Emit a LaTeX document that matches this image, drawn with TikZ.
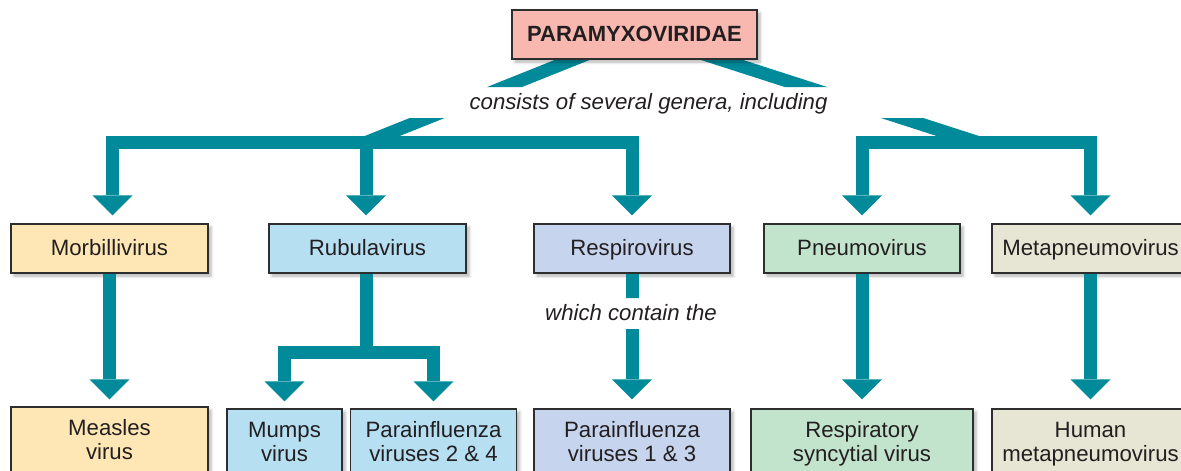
\documentclass[tikz,border=0pt]{standalone}
\usepackage{fontspec}
\setmainfont{Liberation Sans}
\usetikzlibrary{arrows.meta,shadows.blur}
\definecolor{tealc}{HTML}{008A9A}
\definecolor{boxline}{HTML}{2E2E2E}
\definecolor{txt}{HTML}{231F20}
\definecolor{cTop}{HTML}{F8B8B0}
\definecolor{cMor}{HTML}{FFE7B5}
\definecolor{cRub}{HTML}{B6DFF2}
\definecolor{cRes}{HTML}{C6D4EE}
\definecolor{cPne}{HTML}{C2E3CC}
\definecolor{cMet}{HTML}{E7E5D3}
\pgfdeclarelayer{background}
\pgfsetlayers{background,main}
\begin{document}
\begin{tikzpicture}[x=1pt,y=-1pt,
  box/.style={draw=boxline, line width=1.1pt, minimum height=49pt, inner sep=0pt,
    align=center, text=txt, font=\fontsize{22.2}{24}\selectfont,
    text height=16pt, text depth=3pt,
    blur shadow={shadow xshift=3pt, shadow yshift=-3pt, shadow blur radius=3pt, shadow opacity=30}},
  lowbox/.style={box, minimum height=67pt, text height=40pt, text depth=2pt},
  flow/.style={draw=tealc, line width=13pt, -{Triangle[width=40pt,length=20pt,line width=0pt]}},
  bar/.style={draw=tealc, line width=13pt},
  note/.style={font=\fontsize{22.2}{24}\selectfont\itshape, text=txt, inner sep=0pt, text height=16pt, text depth=3pt}]
\useasboundingbox (0,0) rectangle (1181,471);
\clip (0,0) rectangle (1181,471);

% top
\node[box, fill=cTop, minimum width=245pt, font=\fontsize{22}{24}\selectfont\bfseries] (top) at (634.5,34.5) {PARAMYXOVIRIDAE};
\node[note] (lab1) at (648.5,102.5) {consists of several genera, including};

% genera
\node[box, fill=cMor, minimum width=197pt] (mor) at (109.5,248.5) {Morbillivirus};
\node[box, fill=cRub, minimum width=197pt] (rub) at (367.5,248.5) {Rubulavirus};
\node[box, fill=cRes, minimum width=196pt] (res) at (632,248.5) {Respirovirus};
\node[box, fill=cPne, minimum width=196pt] (pne) at (862,248.5) {Pneumovirus};
\node[box, fill=cMet, minimum width=197pt] (met) at (1090.5,248.5) {Metapneumovirus};

\node[note] (lab2) at (631,313.5) {which contain the};

% viruses
\node[lowbox, fill=cMor, minimum width=197pt] (mea) at (109.5,440.5) {Measles\\virus};
\node[lowbox, fill=cRub, minimum width=115pt] (mum) at (284.5,442.5) {Mumps\\virus};
\node[lowbox, fill=cRub, minimum width=166pt] (p24) at (433.5,442.5) {Parainfluenza\\viruses 2 \& 4};
\node[lowbox, fill=cRes, minimum width=196pt] (p13) at (632,442.5) {Parainfluenza\\viruses 1 \& 3};
\node[lowbox, fill=cPne, minimum width=222pt] (rsv) at (862,442.5) {Respiratory\\syncytial virus};
\node[lowbox, fill=cMet, minimum width=197pt] (hmv) at (1090.5,442.5) {Human\\metapneumovirus};

% junctions
\coordinate (dl) at (609.5,45);
\coordinate (dr) at (675.6,45);
\coordinate (jl) at (366,142.5);
\coordinate (jr) at (978,142.5);
\coordinate (jm) at (366,352.5);

% diagonals from the family box, broken by the label
\begin{pgfonlayer}{background}
\begin{scope}
\clip (0,0) rectangle (1181,87) (0,118) rectangle (1181,471);
\draw[bar] (dl) -- (jl);
\draw[bar] (dr) -- (jr);
\end{scope}
\end{pgfonlayer}

% top level branches
\draw[flow, shorten >=8pt] (jl) -| ([xshift=3pt]mor.north);
\draw[flow, shorten >=8pt] (jl) -- (jl |- rub.north);
\draw[flow, shorten >=8pt] (jl) -| (res.north);
\draw[flow, shorten >=8pt] (jr) -| (pne.north);
\draw[flow, shorten >=8pt] (jr) -| (met.north);

% second level
\draw[flow, shorten >=7pt] (mor.south) -- (mea.north);
\draw[bar] (jm |- rub.south) -- (jm);
\draw[flow, shorten >=7pt] (jm) -| (mum.north);
\draw[flow, shorten >=7pt] (jm) -| (p24.north);
\begin{scope}
\clip (0,0) rectangle (1181,298) (0,329) rectangle (1181,471);
\draw[flow, shorten >=9pt] (res.south) -- (p13.north);
\end{scope}
\draw[flow, shorten >=9pt] (pne.south) -- (rsv.north);
\draw[flow, shorten >=9pt] (met.south) -- (hmv.north);
\end{tikzpicture}
\end{document}
